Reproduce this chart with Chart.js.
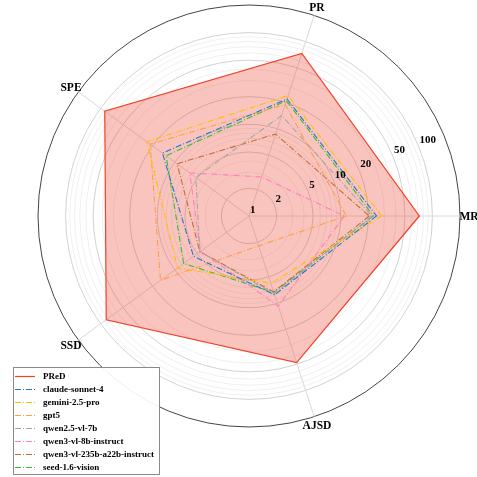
<!DOCTYPE html>
<html>
<head>
<meta charset="utf-8">
<script src="https://cdn.jsdelivr.net/npm/chart.js@4.4.0/dist/chart.umd.min.js"></script>
<style>
    html, body { margin: 0; padding: 0; background: #fff; }
    canvas { display: block; }
</style>
</head>
<body>
<canvas id="radarChart" width="477" height="477"></canvas>
<script>
// axes in Chart.js order (clockwise, starting at the right)
var axisLabels = ['MR', 'AJSD', 'SSD', 'SPE', 'PR'];

var modelNames = ['PReD', 'claude-sonnet-4', 'gemini-2.5-pro', 'gpt5', 'qwen2.5-vl-7b',
    'qwen3-vl-8b-instruct', 'qwen3-vl-235b-a22b-instruct', 'seed-1.6-vision'];

var predValues = [72, 48, 84, 88, 73];
var claudeValues = [24.6, 8.0, 5.6, 14.7, 22];
var geminiValues = [28, 5.9, 9.2, 23.8, 24];
var gpt5Values = [11.5, 2.2, 15.6, 21.5, 19];
var qwen25Values = [22, 7.8, 4.6, 5.2, 14.2];
var qwen3SmallValues = [11, 10.8, 4.5, 6.3, 2.8];
var qwen3LargeValues = [20.5, 7.4, 4.6, 9.3, 8.7];
var seedValues = [22.7, 7.5, 7.6, 13.1, 21];

var tickValues = [1, 2, 5, 10, 20, 50, 100];
var minorValues = [3, 4, 6, 7, 8, 9, 30, 40, 60, 70, 80, 90];
var rMax = 200;

document.addEventListener('DOMContentLoaded', function () {
    var ctx = document.getElementById('radarChart').getContext('2d');

    var seriesValues = [predValues, claudeValues, geminiValues, gpt5Values, qwen25Values,
        qwen3SmallValues, qwen3LargeValues, seedValues];
    var colors = ['#f2402a', '#1f77d4', '#ffbf00', '#ff9f4a', '#a6a6a6', '#ff7fbf', '#c0703a', '#33c033'];

    // the radial scale is linear in Chart.js, so plot log10 of each value
    var datasets = seriesValues.map(function (values, i) {
        var isPred = i === 0;
        return {
            label: modelNames[i],
            data: values.map(function (v) { return Math.log10(v); }),
            borderColor: colors[i],
            backgroundColor: isPred ? 'rgba(240, 60, 40, 0.3)' : 'rgba(0,0,0,0)',
            borderWidth: isPred ? 1.2 : 1.1,
            borderDash: isPred ? [] : [6, 2, 1, 2],
            fill: isPred ? 'origin' : false,
            pointRadius: 0,
            pointHoverRadius: 0,
            order: isPred ? 1 : 0
        };
    });

    var gridTicks = [1].concat(minorValues, tickValues.slice(1), [rMax])
        .sort(function (a, b) { return a - b; })
        .filter(function (v, i, arr) { return arr.indexOf(v) === i; })
        .map(function (v) {
            return { value: Math.log10(v), raw: v, major: tickValues.indexOf(v) >= 0 };
        });

    var overlayPlugin = {
        id: 'overlay',
        afterDraw: function (chart) {
            var c = chart.ctx;
            var scale = chart.scales.r;
            c.save();
            c.fillStyle = '#000';

            // axis names
            c.font = 'bold 11.5px "Liberation Serif"';
            c.textAlign = 'center';
            c.textBaseline = 'middle';
            axisLabels.forEach(function (name, i) {
                var p = scale.getPointPosition(i, scale.drawingArea + 9);
                c.fillText(name, p.x, p.y + 1);
            });

            // radial tick labels along 22.5 degrees
            c.font = 'bold 11px "Liberation Serif"';
            c.textAlign = 'left';
            var a = -22.5 * Math.PI / 180;
            tickValues.forEach(function (v) {
                var d = scale.getDistanceFromCenterForValue(Math.log10(v));
                c.fillText(String(v), scale.xCenter + d * Math.cos(a) + 1, scale.yCenter + d * Math.sin(a) - 6);
            });

            // legend box
            var lx = 13, ly = 367, lw = 146, lh = 107;
            c.fillStyle = 'rgba(255,255,255,0.92)';
            c.fillRect(lx, ly, lw, lh);
            c.strokeStyle = '#8a8a8a';
            c.lineWidth = 1;
            c.strokeRect(lx + 0.5, ly + 0.5, lw, lh);

            c.font = 'bold 9px "Liberation Serif"';
            c.textBaseline = 'middle';
            chart.data.datasets.forEach(function (ds, i) {
                var y = 376.5 + i * 13;
                c.strokeStyle = ds.borderColor;
                c.lineWidth = 1.2;
                c.setLineDash(ds.borderDash);
                c.beginPath();
                c.moveTo(15, y);
                c.lineTo(35, y);
                c.stroke();
                c.setLineDash([]);
                c.fillStyle = '#000';
                c.fillText(ds.label, 43, y);
            });
            c.restore();
        }
    };

    new Chart(ctx, {
        type: 'radar',
        data: {
            labels: axisLabels,
            datasets: datasets
        },
        options: {
            responsive: false,
            animation: false,
            layout: {
                padding: { left: 38, right: 17, top: 5, bottom: 50 }
            },
            plugins: {
                legend: { display: false },
                tooltip: { enabled: false }
            },
            elements: {
                line: { tension: 0 }
            },
            scales: {
                r: {
                    min: 0,
                    max: Math.log10(rMax),
                    startAngle: 90,
                    afterBuildTicks: function (scale) {
                        scale.ticks = gridTicks.map(function (t) {
                            return { value: t.value, raw: t.raw, major: t.major };
                        });
                    },
                    ticks: { display: false },
                    pointLabels: { display: false },
                    grid: {
                        circular: true,
                        lineWidth: 1,
                        color: function (context) {
                            var t = context.tick;
                            if (!t) return '#efefef';
                            if (t.raw === rMax) return '#444';
                            return t.major ? '#d2d2d2' : '#f0f0f0';
                        }
                    },
                    angleLines: {
                        color: '#dadada',
                        lineWidth: 1
                    }
                }
            }
        },
        plugins: [overlayPlugin]
    });
});
</script>
</body>
</html>
